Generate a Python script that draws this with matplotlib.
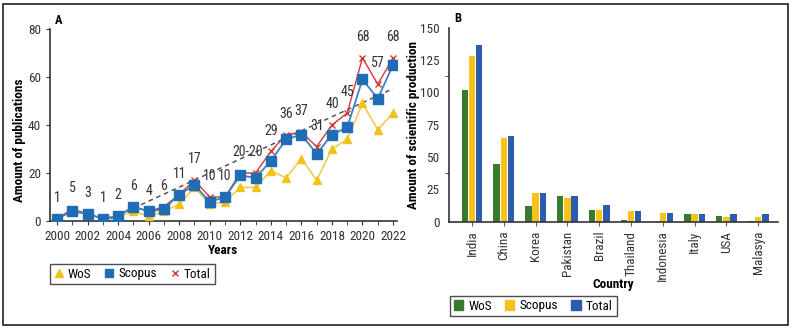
import numpy as np
import matplotlib.pyplot as plt
from matplotlib.lines import Line2D
from matplotlib.patches import Patch, Rectangle

plt.rcParams['font.family'] = ['Liberation Sans Narrow', 'Arial Narrow', 'Roboto Condensed',
                               'Archivo Narrow', 'DejaVu Sans']

# panel A data
years = np.arange(2000, 2023)
wos = [1, 4, 3, 1, 2, 4, 2, 4, 7, 14, 7, 8, 14, 14, 21, 18, 26, 17, 30, 34, 49, 38, 45]
scopus = [1, 4, 3, 1, 2, 6, 4, 5, 11, 15, 8, 10, 19, 18, 25, 34, 36, 28, 36, 39, 59, 51, 65]
total = [1, 5, 3, 1, 2, 6, 4, 6, 11, 17, 10, 10, 20, 20, 29, 36, 37, 31, 40, 45, 68, 57, 68]
total_labels = ["1", "5", "3", "1", "2", "6", "4", "6", "11", "17", "10", "10",
                "20-20", "", "29", "36", "37", "31", "40", "45", "68", "57", "68"]

# panel B data
countries = ["India", "China", "Korea", "Pakistan", "Brazil", "Thailand",
             "Indonesia", "Italy", "USA", "Malasya"]
b_wos = [102, 45, 12, 20, 9, 1.3, 0, 6, 4.4, 0.7]
b_scopus = [128, 65, 22, 18.5, 9, 8.5, 6.7, 6, 3.6, 3.8]
b_total = [137, 66.5, 22, 20, 13, 8.5, 6.7, 6, 6, 6]

W, H = 794, 334
fig = plt.figure(figsize=(W / 100, H / 100), dpi=100)
dark = '#333333'
fs = 9.5

def fx(px):
    return px / W

def fy(py):
    return 1 - py / H

# outer frame
fig.patches.append(Rectangle((fx(3), fy(325)), fx(785), 321 / H, transform=fig.transFigure,
                             fill=False, edgecolor='#222222', lw=1.2))

# ---------- panel A ----------
ax = fig.add_axes([fx(50), fy(221), fx(347), (221 - 29) / H])
c_w, c_s, c_t = '#f2c21b', '#1f6db5', '#d23a32'
ax.plot(years, wos, color='#f0cc55', lw=1.2, marker='^', ms=6, mfc=c_w, mec=c_w, zorder=3)
ax.plot(years, scopus, color='#3f7fc0', lw=1.3, marker='s', ms=6.5, mfc=c_s, mec=c_s, zorder=4)
ax.plot(years, total, color=c_t, lw=1.0, marker='x', ms=5, mew=1.0, zorder=2)
k, b = np.polyfit(years, total, 1)
ax.plot(years, k * years + b, color='#555555', lw=1.1, ls=(0, (3, 2.5)), zorder=1)
for x, y, t in zip(years, total, total_labels):
    xx = x + 0.5 if t == "20-20" else x
    ax.annotate(t, (xx, y), xytext=(0, 15), textcoords='offset points',
                ha='center', va='center', fontsize=10, color='#333333')
ax.set_xlim(1999.54, 2022.26)
ax.set_ylim(0, 80)
ax.set_xticks(np.arange(2000, 2023, 2))
ax.set_xticks(years, minor=True)
ax.set_yticks([0, 20, 40, 60, 80])
ax.tick_params(labelsize=fs, colors=dark, length=3, direction='out')
ax.tick_params(which='minor', length=3, color=dark)
for s in ['top', 'right']:
    ax.spines[s].set_visible(False)
for s in ['left', 'bottom']:
    ax.spines[s].set_color(dark)
    ax.spines[s].set_linewidth(1.2)
ax.set_xlabel('Years', fontsize=fs, fontweight='bold')
ax.xaxis.set_label_coords(0.5, -0.12)
ax.set_ylabel('Amount of publications', fontsize=fs, fontweight='bold')
ax.yaxis.set_label_coords(-0.068, 0.42)
fig.text(fx(55), fy(20), 'A', fontsize=9, fontweight='bold', va='center')
h1 = [Line2D([], [], ls='none', marker='^', ms=6, mfc=c_w, mec=c_w),
      Line2D([], [], ls='none', marker='s', ms=6, mfc=c_s, mec=c_s),
      Line2D([], [], ls='none', marker='x', ms=5, color=c_t)]
leg = fig.legend(h1, ['WoS', 'Scopus', 'Total'], ncol=3, loc='center left',
                 bbox_to_anchor=(fx(50), fy(274)), borderaxespad=0, fontsize=fs,
                 frameon=True, fancybox=False, edgecolor='#222222', handlelength=0.7,
                 handletextpad=0.35, columnspacing=1.0, borderpad=0.3)
leg.get_frame().set_linewidth(1.0)

# ---------- panel B ----------
ax2 = fig.add_axes([fx(449), fy(221.7), fx(329), (221.7 - 27.7) / H])
xi = np.arange(len(countries))
bw = 0.2
g, yel, blu = '#3a7a2c', '#f7c21c', '#2b5cad'
ax2.bar(xi - 0.225, b_wos, bw, color=g)
ax2.bar(xi, b_scopus, bw, color=yel)
ax2.bar(xi + 0.225, b_total, bw, color=blu)
ax2.set_xlim(-0.72, 9.62)
ax2.set_ylim(0, 150)
ax2.set_xticks(xi)
ax2.set_xticklabels(countries, rotation=90, fontsize=fs, color=dark)
ax2.set_yticks(np.arange(0, 151, 25))
ax2.set_yticks([0, 37.5, 75, 112.5, 150], minor=True)
ax2.tick_params(axis='y', which='major', length=0, pad=7, labelsize=fs, colors=dark)
ax2.tick_params(axis='y', which='minor', length=3, color=dark)
ax2.tick_params(axis='x', length=3, color='#a0522d')
for s in ['top', 'right']:
    ax2.spines[s].set_visible(False)
for s in ['left', 'bottom']:
    ax2.spines[s].set_color(dark)
    ax2.spines[s].set_linewidth(1.2)
ax2.set_xlabel('Country', fontsize=fs, fontweight='bold')
ax2.xaxis.set_label_coords(0.5, -0.29)
ax2.set_ylabel('Amount of scientific production', fontsize=fs, fontweight='bold')
ax2.yaxis.set_label_coords(-0.088, 0.5)
fig.text(fx(454), fy(19), 'B', fontsize=9, fontweight='bold', va='center')
h2 = [Patch(color=g), Patch(color=yel), Patch(color=blu)]
leg2 = fig.legend(h2, ['WoS', 'Scopus', 'Total'], ncol=3, loc='center left',
                  bbox_to_anchor=(fx(450), fy(306)), borderaxespad=0, fontsize=fs,
                  frameon=True, fancybox=False, edgecolor='#222222', handlelength=0.7,
                  handleheight=0.7, handletextpad=0.4, columnspacing=1.0, borderpad=0.3)
leg2.get_frame().set_linewidth(1.0)

fig.savefig('out.png', dpi=100, facecolor='white')
